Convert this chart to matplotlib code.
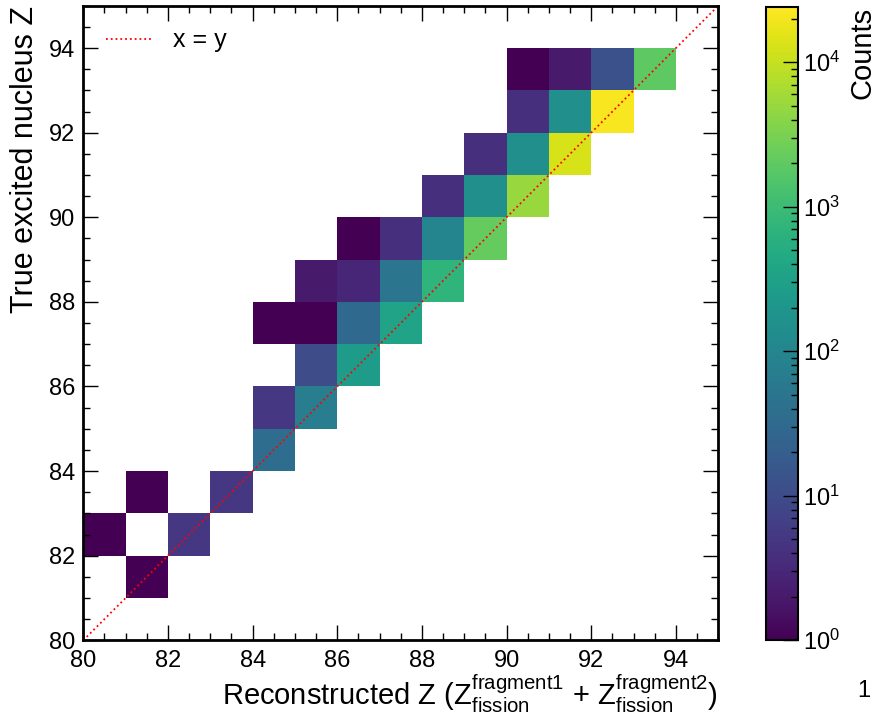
import numpy as np
import matplotlib
matplotlib.use("Agg")
import matplotlib.pyplot as plt
from matplotlib.colors import LogNorm
from matplotlib.ticker import MultipleLocator

# =====================================================
# DADOS (canto inferior de cada bin, contagens)
# =====================================================
z_edges = list(range(80, 96))

reco_z = [90, 91, 92, 93,
          90, 91, 92,
          89, 90, 91,
          88, 89, 90,
          86, 87, 88, 89,
          85, 86, 87, 88,
          84, 85, 86, 87,
          85, 86,
          84, 85,
          84,
          83, 81,
          80, 82,
          81]
true_z = [93, 93, 93, 93,
          92, 92, 92,
          91, 91, 91,
          90, 90, 90,
          89, 89, 89, 89,
          88, 88, 88, 88,
          87, 87, 87, 87,
          86, 86,
          85, 85,
          84,
          83, 83,
          82, 82,
          81]
counts = [1, 2, 12, 2000,
          4, 150, 22000,
          4, 150, 13000,
          4, 150, 5000,
          1, 4, 100, 2200,
          2, 3, 50, 700,
          1, 1, 30, 350,
          10, 250,
          5, 70,
          35,
          5, 1,
          1, 5,
          1]

plt.rcParams['font.family'] = ['Liberation Sans', 'DejaVu Sans']
plt.rcParams['mathtext.fontset'] = 'custom'
plt.rcParams['mathtext.rm'] = 'Liberation Sans'
plt.rcParams['mathtext.it'] = 'Liberation Sans:italic'

fig = plt.figure(figsize=(8.77, 7.21), dpi=100)
ax = fig.add_axes([0.095, 0.112, 0.724, 0.880])
cax = fig.add_axes([0.873, 0.112, 0.037, 0.878])

xc = np.array(reco_z) + 0.5
yc = np.array(true_z) + 0.5
h = ax.hist2d(xc, yc, bins=[z_edges, z_edges], weights=counts,
              cmap='viridis', norm=LogNorm(vmin=1, vmax=24000), cmin=0.5)

ax.plot([80, 95], [80, 95], ls=':', color='red', lw=1.3, label='x = y')

ax.set_xlim(80, 95)
ax.set_ylim(80, 95)
ax.xaxis.set_major_locator(MultipleLocator(2))
ax.yaxis.set_major_locator(MultipleLocator(2))
ax.xaxis.set_minor_locator(MultipleLocator(0.5))
ax.yaxis.set_minor_locator(MultipleLocator(0.5))
ax.tick_params(which='both', direction='in', top=True, right=True, labelsize=17, width=1)
ax.tick_params(which='major', length=11)
ax.tick_params(which='minor', length=5)
ax.tick_params(axis='x', which='major', pad=7)
ax.tick_params(axis='y', which='major', pad=6)
for s in ax.spines.values():
    s.set_linewidth(2)

ax.set_xlabel(r'Reconstructed Z ($\mathrm{Z}^{\mathrm{fragment1}}_{\mathrm{fission}}$ + '
              r'$\mathrm{Z}^{\mathrm{fragment2}}_{\mathrm{fission}}$)',
              fontsize=21, loc='right', labelpad=0)
ax.set_ylabel('True excited nucleus Z', fontsize=22, loc='top', labelpad=6)

ax.legend(loc='upper left', frameon=False, fontsize=18, handlelength=1.8,
          handletextpad=0.9, borderaxespad=0.5)

cb = fig.colorbar(h[3], cax=cax)
cb.set_label('Counts', fontsize=21, loc='top', labelpad=6)
cax.tick_params(which='both', direction='in', labelsize=17, width=1)
cax.tick_params(which='major', length=11)
cax.tick_params(which='minor', length=5)
for s in cax.spines.values():
    s.set_linewidth(1.5)

fig.text(0.978, 0.042, '1', fontsize=17, ha='left', va='center')

fig.savefig('out.png', dpi=100)
